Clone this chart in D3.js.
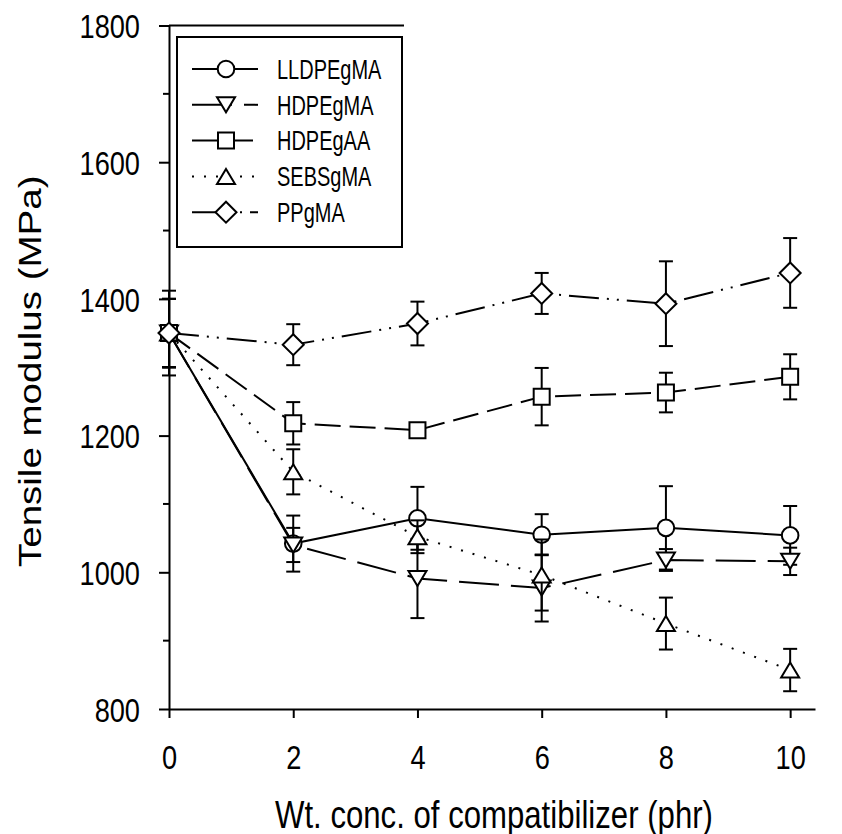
<!DOCTYPE html>
<html>
<head>
<meta charset="utf-8">
<script src="https://cdn.jsdelivr.net/npm/d3@7"></script>
<style>
  body { margin: 0; background: #fff; }
  svg text { font-family: "Liberation Sans", Arial, sans-serif; fill: #000; }
</style>
</head>
<body>
<div id="chart"></div>
<script>
// compatibilizer concentration (phr)
const concentrations = [0, 2, 4, 6, 8, 10];

const seriesNames = ["LLDPEgMA", "HDPEgMA", "HDPEgAA", "SEBSgMA", "PPgMA"];

// tensile modulus (MPa) and error bars
const lldpeMA    = [1350, 1042, 1079, 1055, 1065, 1054];
const lldpeMAErr = [62, 41, 46, 30, 61, 43];
const hdpeMA     = [1350, 1040, 991, 977, 1018, 1016];
const hdpeMAErr  = [50, 25, 58, 49, 16, 20];
const hdpeAA     = [1350, 1218, 1208, 1257, 1263, 1286];
const hdpeAAErr  = [50, 31, 6, 42, 29, 33];
const sebsMA     = [1350, 1147, 1052, 996, 925, 857];
const sebsMAErr  = [50, 33, 24, 52, 38, 31];
const ppMA       = [1350, 1333, 1364, 1408, 1393, 1438];
const ppMAErr    = [50, 30, 32, 30, 62, 51];

const xTicks = [0, 2, 4, 6, 8, 10];
const yTicks = [800, 1000, 1200, 1400, 1600, 1800];
const yMinorTicks = [900, 1100, 1300, 1500, 1700];

const width = 842, height = 834;
const narrow = 0.8;   // the figure's type is condensed

const x = d3.scaleLinear().domain([0, 10.4]).range([169, 815]);
const y = d3.scaleLinear().domain([800, 1800]).range([709, 25.5]);

const svg = d3.select('#chart')
	.append('svg')
		.attr('width', width)
		.attr('height', height);

// condensed text: draw at (px,py) and squeeze horizontally
const squeeze = (sel, px, py, size, k = narrow) => sel
	.attr('x', 0).attr('y', 0)
	.attr('transform', `translate(${px},${py}) scale(${k},1)`)
	.style('font-size', size + 'px');

// symbol paths, centred on their bounding box
const symbols = {
	circle: r => `M${-r},0A${r},${r} 0 1,0 ${r},0A${r},${r} 0 1,0 ${-r},0Z`,
	triDown: () => "M-9,-7.5L9,-7.5L0,7.5Z",
	square: () => "M-8,-8H8V8H-8Z",
	triUp: () => "M0,-7.5L9,7.5L-9,7.5Z",
	diamond: () => "M0,-10.5L10.5,0L0,10.5L-10.5,0Z"
};

const series = [
	{ name: seriesNames[0], values: lldpeMA, errors: lldpeMAErr, dash: null, symbol: symbols.circle(8.3) },
	{ name: seriesNames[1], values: hdpeMA, errors: hdpeMAErr, dash: "40,12", symbol: symbols.triDown() },
	{ name: seriesNames[2], values: hdpeAA, errors: hdpeAAErr, dash: "26,9", symbol: symbols.square() },
	{ name: seriesNames[3], values: sebsMA, errors: sebsMAErr, dash: "2,10", symbol: symbols.triUp() },
	{ name: seriesNames[4], values: ppMA, errors: ppMAErr, dash: "30,8,2,8,2,8", symbol: symbols.diamond() }
];

// axes
const xAxis = svg.append('g')
	.attr('transform', `translate(0,${y(800)})`)
	.call(d3.axisBottom(x).tickValues(xTicks).tickSize(9).tickSizeOuter(0).tickFormat(d3.format('d')));
const yAxis = svg.append('g')
	.attr('transform', `translate(${x(0)},0)`)
	.call(d3.axisLeft(y).tickValues(yTicks).tickSize(10).tickSizeOuter(0).tickFormat(d3.format('d')));

svg.append('g')
	.attr('transform', `translate(${x(0)},0)`)
	.selectAll('line')
	.data(yMinorTicks).enter()
	.append('line')
		.attr('x1', -6).attr('x2', 0)
		.attr('y1', d => y(d)).attr('y2', d => y(d))
		.attr('stroke', '#000').attr('stroke-width', 2);

[xAxis, yAxis].forEach(a => {
	a.attr('font-family', null).attr('font-size', null);
	a.select('.domain').attr('stroke', '#000').attr('stroke-width', 2);
	a.selectAll('.tick line').attr('stroke', '#000').attr('stroke-width', 2);
});
xAxis.selectAll('.tick text')
	.attr('dy', '0.36em')
	.call(squeeze, 0, 48, 34);
yAxis.selectAll('.tick text')
	.attr('dy', '0.36em')
	.attr('text-anchor', 'end')
	.call(squeeze, -29, 0, 34);

// axis titles
svg.append('text')
	.attr('text-anchor', 'middle')
	.attr('dy', '0.36em')
	.call(squeeze, 494, 814, 38, 0.82)
	.text('Wt. conc. of compatibilizer (phr)');
svg.append('text')
	.attr('text-anchor', 'middle')
	.attr('dy', '0.36em')
	.attr('transform', `translate(30,${(y(800) + y(1800)) / 2 + 4}) rotate(-90) scale(1,${narrow})`)
	.style('font-size', '38.5px')
	.text('Tensile modulus (MPa)');

// plot series one after another
const line = d3.line()
	.x((d, i) => x(concentrations[i]))
	.y(d => y(d));

series.forEach(s => {
	const g = svg.append('g').attr('class', 'series');
	g.append('path')
		.attr('d', line(s.values))
		.attr('fill', 'none')
		.attr('stroke', '#000')
		.attr('stroke-width', 2)
		.attr('stroke-dasharray', s.dash);

	const bars = g.selectAll('.err')
		.data(s.values).enter()
		.append('g')
			.attr('class', 'err');
	bars.append('line')
		.attr('x1', (d, i) => x(concentrations[i]))
		.attr('x2', (d, i) => x(concentrations[i]))
		.attr('y1', (d, i) => y(d + s.errors[i]))
		.attr('y2', (d, i) => y(d - s.errors[i]));
	bars.append('line')
		.attr('x1', (d, i) => x(concentrations[i]) - 7)
		.attr('x2', (d, i) => x(concentrations[i]) + 7)
		.attr('y1', (d, i) => y(d + s.errors[i]))
		.attr('y2', (d, i) => y(d + s.errors[i]));
	bars.append('line')
		.attr('x1', (d, i) => x(concentrations[i]) - 7)
		.attr('x2', (d, i) => x(concentrations[i]) + 7)
		.attr('y1', (d, i) => y(d - s.errors[i]))
		.attr('y2', (d, i) => y(d - s.errors[i]));
	bars.selectAll('line')
		.attr('stroke', '#000')
		.attr('stroke-width', 2);

	g.selectAll('.marker')
		.data(s.values).enter()
		.append('path')
			.attr('class', 'marker')
			.attr('d', s.symbol)
			.attr('transform', (d, i) => `translate(${x(concentrations[i])},${y(d)})`)
			.attr('fill', '#fff')
			.attr('stroke', '#000')
			.attr('stroke-width', 2);
});

// legend
const legend = svg.append('g').attr('class', 'legend');
legend.append('line')
	.attr('x1', x(0)).attr('x2', 404)
	.attr('y1', y(1800)).attr('y2', y(1800))
	.attr('stroke', '#000')
	.attr('stroke-width', 2);
legend.append('rect')
	.attr('x', 177).attr('y', 37)
	.attr('width', 225).attr('height', 210)
	.attr('fill', '#fff')
	.attr('stroke', '#000')
	.attr('stroke-width', 2);

const rows = legend.selectAll('.row')
	.data(series).enter()
	.append('g')
		.attr('class', 'row')
		.attr('transform', (d, i) => `translate(0,${69 + i * 35.8})`);
rows.append('line')
	.attr('x1', 192).attr('x2', 258)
	.attr('y1', 0).attr('y2', 0)
	.attr('stroke', '#000')
	.attr('stroke-width', 2)
	.attr('stroke-dasharray', d => d.dash);
rows.append('path')
	.attr('d', d => d.symbol)
	.attr('transform', 'translate(226,0)')
	.attr('fill', '#fff')
	.attr('stroke', '#000')
	.attr('stroke-width', 2);
rows.append('text')
	.attr('dy', '0.36em')
	.call(squeeze, 277, 0, 27, 0.74)
	.text(d => d.name);
</script>
</body>
</html>
